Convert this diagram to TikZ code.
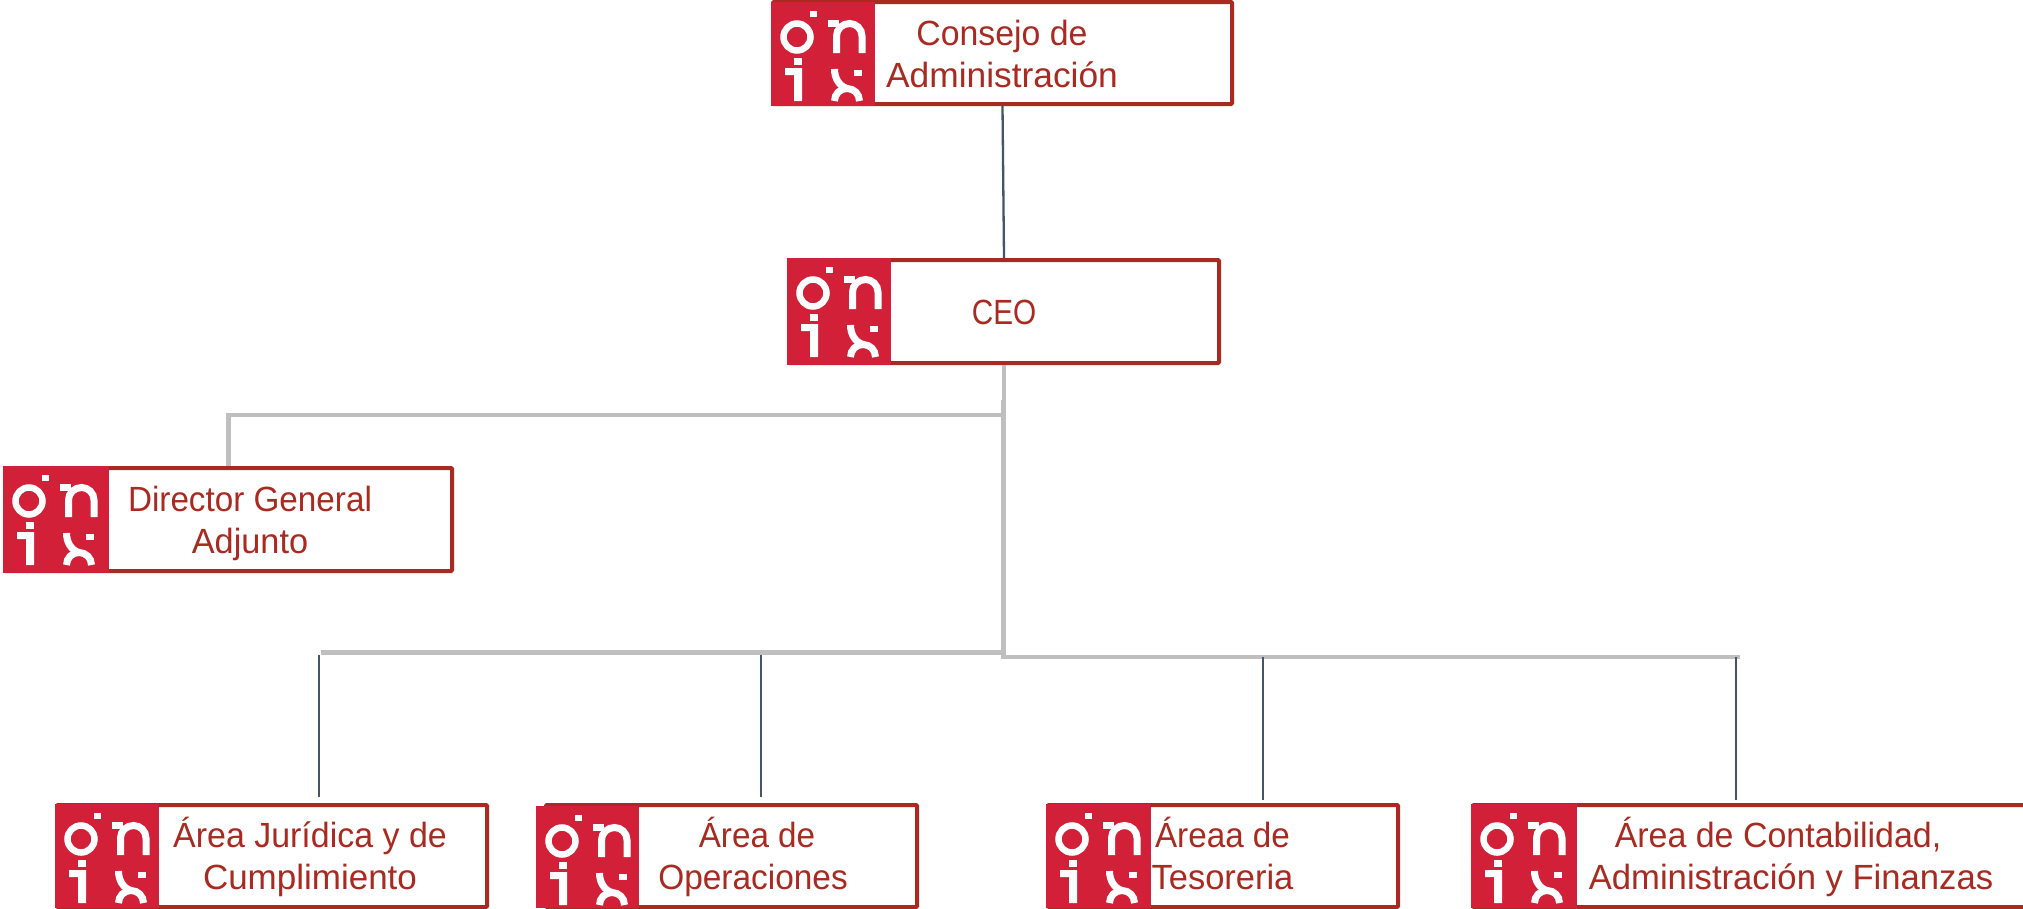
\documentclass[tikz,border=0pt]{standalone}
\usepackage{fontspec}
\setmainfont{Liberation Sans}
\definecolor{boxred}{HTML}{A82A20}
\definecolor{logored}{HTML}{D12037}
\definecolor{linkgray}{HTML}{BFBFBF}
\definecolor{linknavy}{HTML}{44546A}
\tikzset{
  orgbox/.style={draw=boxred,fill=white,line width=4pt,rounded corners=1pt,inner sep=0pt},
  lbl/.style={text=boxred,font=\fontsize{35}{42}\selectfont,align=center,inner sep=0pt,anchor=base},
  graylink/.style={draw=linkgray,line width=4.4pt},
  navylink/.style={draw=linknavy,line width=2.3pt},
  glyphline/.style={draw=white,line width=7pt}
}
\newcommand{\st}[2]{{\addfontfeature{FakeStretch=#1}#2}}
% #1 name, #2 x0, #3 y0, #4 x1, #5 y1 (outer edges)
\newcommand{\orgrect}[5]{%
  \node[orgbox,minimum width={(#4-#2-4)*1pt},minimum height={(#5-#3-4)*1pt}] (#1) at ({(#2+#4)/2},{(#3+#5)/2}) {};%
}
% #1 left, #2 top, #3 width, #4 height
\newcommand{\onixlogo}[4]{%
  \fill[logored] (#1,#2) rectangle ({#1+#3},{#2+#4});
  \begin{scope}[shift={(#1,#2)}]
    \fill[white] (39,9) rectangle (46,15);
    \draw[glyphline,line width=6.5pt] (26,35) circle [radius=13.5];
    \draw[glyphline] (57,21.5) -- (68,21.5);
    \draw[glyphline] (65.5,51) -- (65.5,34) .. controls (65.5,27) and (71.5,21.5) .. (78.5,21.5) .. controls (85.4,21.5) and (91,27.1) .. (91,34) -- (91,51);
    \fill[white] (23,56) rectangle (31,63);
    \fill[white] (14,66) -- (31,66) -- (31,99) -- (23,99) -- (23,73) -- (14,73) -- cycle;
    \fill[white] (83,68) rectangle (91,74);
    \draw[glyphline] (63.5,67) .. controls (63.5,76) and (68,84) .. (76,86.5);
    \draw[glyphline] (63.5,99) .. controls (63.5,92) and (69,86.5) .. (76,86.5) .. controls (83,86.5) and (88.5,92) .. (88.5,99);
  \end{scope}
}
\begin{document}
\begin{tikzpicture}[x=1pt,y=-1pt]
\useasboundingbox (0,0) rectangle (2023,908);
\clip (0,0) rectangle (2023,908);
\fill[white] (0,0) rectangle (2023,908);

% boxes
\orgrect{cons}{771}{0}{1234}{106}
\orgrect{ceo}{787}{258}{1221}{365}
\orgrect{dir}{3}{466}{454}{573}
\orgrect{jur}{55}{803}{489}{909}
\orgrect{ope}{544}{803}{919}{909}
\orgrect{tes}{1046}{803}{1400}{909}
\orgrect{con}{1471}{803}{2040}{909}

% logos
\onixlogo{771}{2}{104}{104}
\onixlogo{787}{258}{104}{107}
\onixlogo{3}{466}{106}{107}
\onixlogo{55}{804}{104}{104}
\onixlogo{536}{806}{103}{102}
\onixlogo{1046}{804}{105}{104}
\onixlogo{1471}{804}{106}{104}

% labels
\node[lbl] (consT) at (1002,87) {\st{.966}{Consejo de}\\\st{1.01}{Administración}};
\node[lbl] (ceoT) at (1004,324) {\st{.85}{CEO}};
\node[lbl] (dirT) at (250,553) {\st{.95}{Director General}\\\st{.98}{Adjunto}};
\node[lbl] (jurT) at (310,889) {\st{.97}{Área Jurídica y de}\\Cumplimiento};
\node[lbl] (opeT) at (753,889) {\hspace*{8pt}\st{.95}{Área de}\\\st{.955}{Operaciones}};
\node[lbl] (tesT) at (1222.5,889) {\st{.95}{Áreaa de}\\\st{.985}{Tesoreria}};
\node[lbl] (conT) at (1791,889) {\st{.97}{Área de Contabilidad,}\hspace*{26pt}\\\st{.99}{Administración y Finanzas}};

% junctions
\coordinate (h0) at (1004,403);
\coordinate (v0) at (1003.3,400);
\coordinate (vdir) at (1003.3,415);
\coordinate (bdir) at (dir.north |- vdir);
\coordinate (vleft) at (1003.3,652.3);
\coordinate (lefta) at (321,652.3);
\coordinate (vright) at (1003.3,657);
\coordinate (righta) at (1740,657);
\coordinate (jurtop) at (319,655);
\coordinate (opetop) at (761,655);
\coordinate (testop) at (1263,657);
\coordinate (contop) at (1736,657);

% connectors
\draw[navylink] (cons.south) -- (ceo.north);
\draw[graylink] (ceo.south -| h0) -- (h0);
\draw[graylink] (v0) -- (vright) -- (righta);
\draw[graylink] (vdir) -- (bdir) -- (dir.north);
\draw[graylink] (vleft) -- (lefta);
\draw[navylink,shorten >=6pt] (jurtop) -- (jurtop |- jur.north);
\draw[navylink,shorten >=6pt] (opetop) -- (opetop |- ope.north);
\draw[navylink,shorten >=3pt] (testop) -- (testop |- tes.north);
\draw[navylink,shorten >=3pt] (contop) -- (contop |- con.north);
\end{tikzpicture}
\end{document}
